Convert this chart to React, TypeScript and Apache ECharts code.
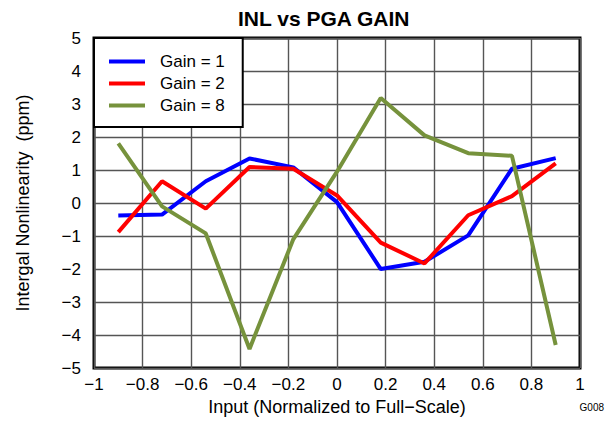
import React, { useEffect, useRef } from "react";
import * as echarts from "echarts";

const xValues = [-0.9, -0.72, -0.54, -0.36, -0.18, 0, 0.18, 0.36, 0.54, 0.72, 0.9];
const gain1 = [-0.38, -0.35, 0.66, 1.35, 1.08, 0.03, -2.0, -1.78, -0.98, 1.04, 1.36];
const gain2 = [-0.88, 0.66, -0.17, 1.09, 1.04, 0.23, -1.2, -1.83, -0.37, 0.21, 1.2];
const gain8 = [1.81, -0.1, -0.92, -4.42, -1.1, 0.95, 3.18, 2.05, 1.51, 1.43, -4.3];
const seriesNames = ["Gain = 1", "Gain = 2", "Gain = 8"];
const seriesColors = ["#0000ff", "#ff0000", "#76923c"];

const fmt = (v: number) => {
  const r = Math.round(v * 10) / 10;
  return r < 0 ? "\u2212" + String(Math.abs(r)) : String(r);
};

const FONT = "'Liberation Sans', Arial, sans-serif";

export default function App() {
  const ref = useRef<HTMLDivElement>(null);
  useEffect(() => {
    document.body.style.margin = "0";
    if (!ref.current) return;
    const chart = echarts.init(ref.current, undefined, { renderer: "svg" });
    const all = [gain1, gain2, gain8];
    chart.setOption({
      animation: false,
      backgroundColor: "#fff",
      textStyle: { fontFamily: FONT },
      title: {
        text: "INL vs PGA GAIN",
        left: 238,
        top: 8,
        padding: 0,
        textStyle: { fontFamily: FONT, fontSize: 21, fontWeight: "bold", color: "#000" },
      },
      grid: {
        left: 94,
        right: 27,
        top: 38,
        bottom: 52,
        show: true,
        borderColor: "#000",
        borderWidth: 3,
        containLabel: false,
      },
      legend: {
        orient: "vertical",
        left: 94,
        top: 38,
        padding: [15, 18, 13, 15],
        backgroundColor: "#fff",
        borderColor: "#000",
        borderWidth: 2,
        itemWidth: 36,
        itemHeight: 4,
        itemGap: 5,
        icon: "rect",
        textStyle: { fontFamily: FONT, fontSize: 17, color: "#000", padding: [0, 0, 0, 10] },
        data: seriesNames,
      },
      xAxis: {
        type: "value",
        min: -1,
        max: 1,
        interval: 0.2,
        name: "Input (Normalized to Full\u2212Scale)",
        nameLocation: "middle",
        nameGap: 24,
        nameTextStyle: { fontFamily: FONT, fontSize: 18, color: "#000" },
        axisLine: { show: false },
        axisTick: { show: false },
        axisLabel: { formatter: fmt, fontFamily: FONT, fontSize: 17, color: "#000", margin: 8 },
        splitLine: { show: true, lineStyle: { color: "#555", width: 1.4 } },
      },
      yAxis: {
        type: "value",
        min: -5,
        max: 5,
        interval: 1,
        name: "Intergal Nonlinearity  (ppm)",
        nameLocation: "middle",
        nameGap: 62,
        nameTextStyle: { fontFamily: FONT, fontSize: 18, color: "#000" },
        axisLine: { show: false },
        axisTick: { show: false },
        axisLabel: { formatter: fmt, fontFamily: FONT, fontSize: 17, color: "#000", margin: 13 },
        splitLine: { show: true, lineStyle: { color: "#555", width: 1.4 } },
      },
      graphic: [
        {
          type: "text",
          right: 3,
          top: 402,
          style: { text: "G008", fontFamily: FONT, fontSize: 10, fill: "#000" },
        },
      ],
      series: all.map((vals, i) => ({
        name: seriesNames[i],
        type: "line",
        data: xValues.map((x, j) => [x, vals[j]]),
        showSymbol: false,
        symbol: "none",
        color: seriesColors[i],
        lineStyle: { color: seriesColors[i], width: 4 },
      })),
    });
    return () => chart.dispose();
  }, []);
  return <div ref={ref} style={{ width: 607, height: 421 }} />;
}
